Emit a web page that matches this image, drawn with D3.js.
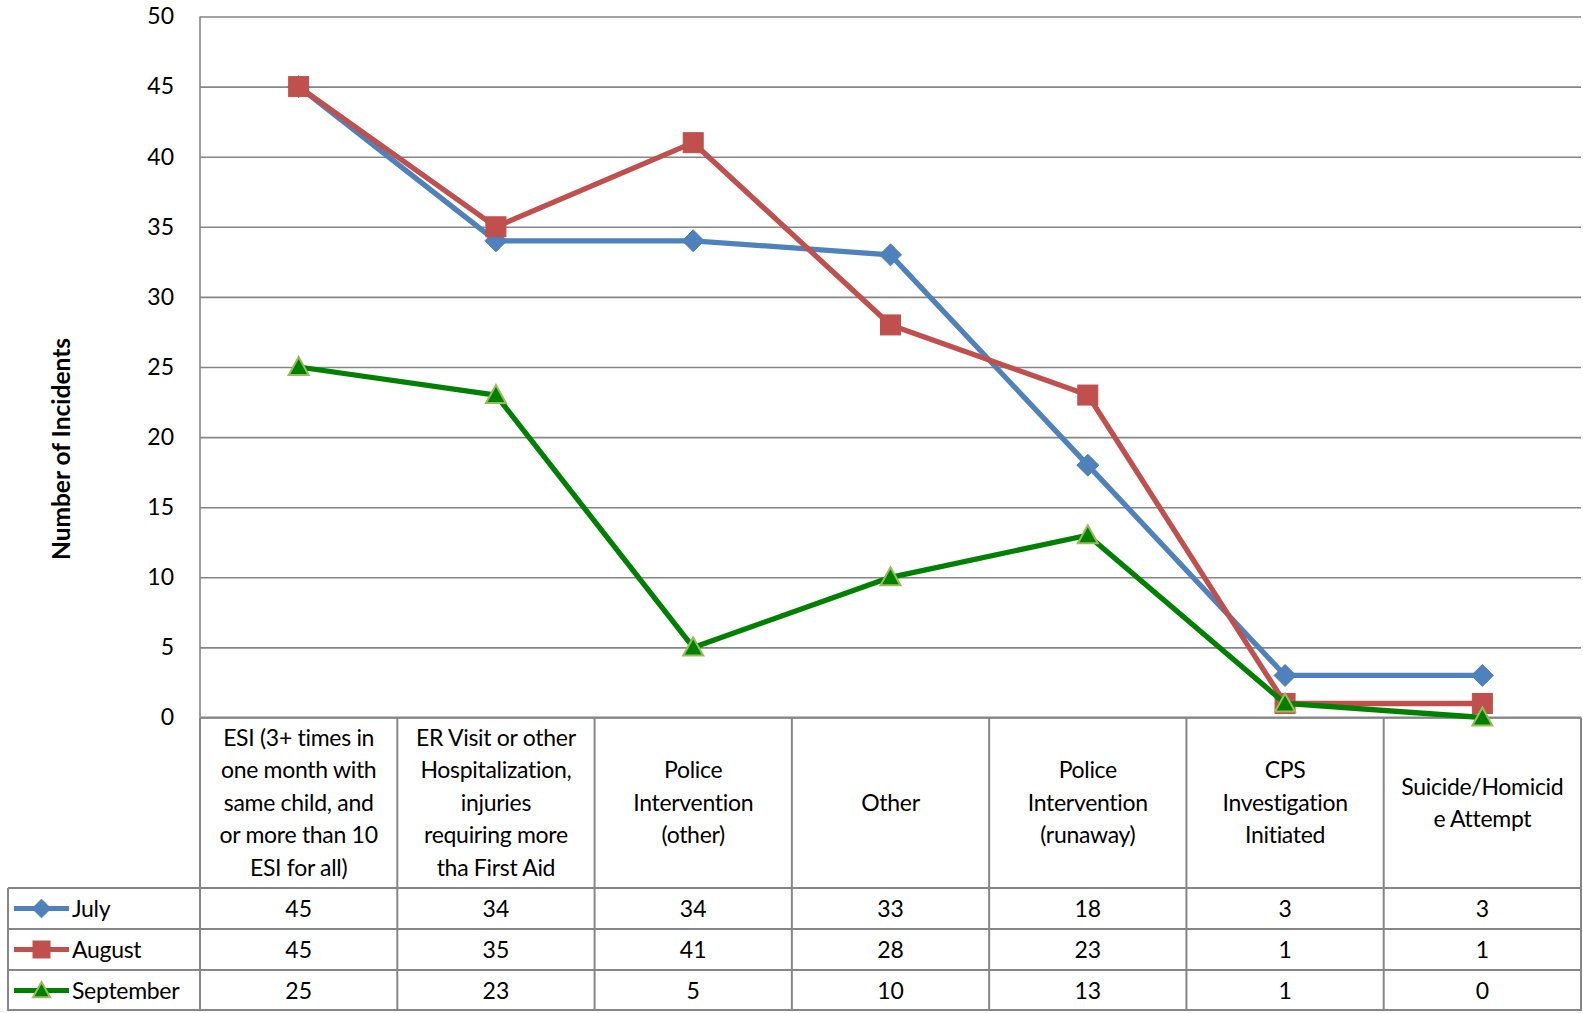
<!DOCTYPE html>
<html>
<head>
<meta charset="utf-8">
<script src="https://cdn.jsdelivr.net/npm/d3@7/dist/d3.min.js"></script>
<style>
  html, body { margin: 0; padding: 0; background: #fff; }
  svg { display: block; }
  text { font-family: Lato, "Open Sans", sans-serif; fill: #000; }
</style>
</head>
<body>
<svg id="chart" width="1583" height="1013"></svg>
<script>
// ---- data ----
const categories = [
  "ESI (3+ times in one month with same child, and or more than 10 ESI for all)",
  "ER Visit or other Hospitalization, injuries requiring more tha First Aid",
  "Police Intervention (other)",
  "Other",
  "Police Intervention (runaway)",
  "CPS Investigation Initiated",
  "Suicide/Homicide Attempt"
];
const categoryLines = [
  ["ESI (3+ times in", "one month with", "same child, and", "or more than 10", "ESI for all)"],
  ["ER Visit or other", "Hospitalization,", "injuries", "requiring more", "tha First Aid"],
  ["Police", "Intervention", "(other)"],
  ["Other"],
  ["Police", "Intervention", "(runaway)"],
  ["CPS", "Investigation", "Initiated"],
  ["Suicide/Homicid", "e Attempt"]
];
const seriesNames = ["July", "August", "September"];
const july = [45, 34, 34, 33, 18, 3, 3];
const august = [45, 35, 41, 28, 23, 1, 1];
const september = [25, 23, 5, 10, 13, 1, 0];
const yTicks = [0, 5, 10, 15, 20, 25, 30, 35, 40, 45, 50];
const yTitle = "Number of Incidents";

// ---- layout ----
const svg = d3.select("#chart");
const plotLeft = 200, plotRight = 1581, plotTop = 16.5, plotBottom = 717.5;
const tableLeft = 8, headerBottom = 888, rowH = 41;
const gridColor = "#868686";
const fs = 23;

const x = d3.scaleBand().domain(categories).range([plotLeft, plotRight]);
const y = d3.scaleLinear().domain([0, 50]).range([plotBottom, plotTop]);

const series = [
  { name: seriesNames[0], values: july, color: "#4F81BD", marker: "diamond", mfill: "#4F81BD", mstroke: "#4F81BD" },
  { name: seriesNames[1], values: august, color: "#C0504D", marker: "square", mfill: "#C0504D", mstroke: "#C0504D" },
  { name: seriesNames[2], values: september, color: "#008000", marker: "triangle", mfill: "#008000", mstroke: "#9BBB59" }
];

// gridlines + y axis labels
const yAxis = d3.axisLeft(y).tickValues(yTicks).tickSize(-(plotRight - plotLeft)).tickPadding(26);
const gy = svg.append("g").attr("transform", `translate(${plotLeft},0)`).call(yAxis);
gy.select(".domain").remove();
gy.selectAll(".tick line").attr("stroke", gridColor).attr("stroke-width", 1.6);
gy.selectAll(".tick text").attr("font-size", fs).attr("font-family", "Lato, sans-serif").attr("fill", "#000");
// y axis line
svg.append("line").attr("x1", plotLeft).attr("x2", plotLeft).attr("y1", plotTop).attr("y2", plotBottom)
  .attr("stroke", gridColor).attr("stroke-width", 1.6);

// y title
svg.append("text")
  .attr("transform", `translate(60,449) rotate(-90)`)
  .attr("text-anchor", "middle").attr("dominant-baseline", "central")
  .attr("font-size", 24.5).attr("font-weight", "bold").text(yTitle);

// ---- table ----
const tbl = svg.append("g").attr("stroke", gridColor).attr("stroke-width", 2);
const nRows = series.length;
const tableBottom = headerBottom + rowH * nRows;
categories.forEach((c) => {
  tbl.append("line").attr("x1", x(c)).attr("x2", x(c)).attr("y1", plotBottom).attr("y2", tableBottom);
});
tbl.append("line").attr("x1", plotRight).attr("x2", plotRight).attr("y1", plotBottom).attr("y2", tableBottom);
tbl.append("line").attr("x1", tableLeft).attr("x2", tableLeft).attr("y1", headerBottom).attr("y2", tableBottom);
tbl.append("line").attr("x1", plotLeft).attr("x2", plotRight).attr("y1", plotBottom).attr("y2", plotBottom);
for (let r = 0; r <= nRows; r++) {
  const yy = headerBottom + r * rowH - (r === nRows ? 1 : 0);
  tbl.append("line").attr("x1", tableLeft).attr("x2", plotRight).attr("y1", yy).attr("y2", yy);
}

// header texts
const lineH = 32.6;
categories.forEach((c, i) => {
  const lines = categoryLines[i];
  const cx = x(c) + x.bandwidth() / 2;
  const cy = (plotBottom + headerBottom) / 2;
  const t = svg.append("text").attr("text-anchor", "middle").attr("font-size", fs).attr("letter-spacing", -0.3);
  lines.forEach((ln, k) => {
    t.append("tspan").attr("x", cx)
      .attr("y", cy + (k - (lines.length - 1) / 2) * lineH)
      .attr("dy", "0.35em").text(ln);
  });
});

// row values & legend
series.forEach((s, r) => {
  const cy = headerBottom + r * rowH + rowH / 2;
  s.values.forEach((v, i) => {
    svg.append("text").attr("x", x(categories[i]) + x.bandwidth() / 2).attr("y", cy)
      .attr("dy", "0.35em").attr("text-anchor", "middle").attr("font-size", fs).text(v);
  });
  svg.append("line").attr("x1", 14).attr("x2", 69).attr("y1", cy).attr("y2", cy)
    .attr("stroke", s.color).attr("stroke-width", 5);
  drawMarker(svg, s, 41.5, cy, 0.85);
  svg.append("text").attr("x", 72).attr("y", cy).attr("dy", "0.35em").attr("font-size", fs)
    .attr("letter-spacing", -0.3).text(s.name);
});

function drawMarker(g, s, cx, cy, k) {
  k = k || 1;
  if (s.marker === "diamond") {
    const r = 11 * k;
    g.append("path").attr("d", `M${cx},${cy - r}L${cx + r},${cy}L${cx},${cy + r}L${cx - r},${cy}Z`)
      .attr("fill", s.mfill).attr("stroke", s.mstroke).attr("stroke-width", 1);
  } else if (s.marker === "square") {
    const h = 10 * k;
    g.append("rect").attr("x", cx - h).attr("y", cy - h).attr("width", 2 * h).attr("height", 2 * h)
      .attr("fill", s.mfill).attr("stroke", s.mstroke).attr("stroke-width", 1);
  } else {
    const h = 10 * k;
    g.append("path").attr("d", `M${cx},${cy - h}L${cx + h},${cy + h * 0.8}L${cx - h},${cy + h * 0.8}Z`)
      .attr("fill", s.mfill).attr("stroke", s.mstroke).attr("stroke-width", 2);
  }
}

// ---- lines ----
const line = d3.line().x((d, i) => x(categories[i]) + x.bandwidth() / 2).y(d => y(d));
series.forEach(s => {
  svg.append("path").datum(s.values).attr("d", line).attr("fill", "none")
    .attr("stroke", s.color).attr("stroke-width", 5.3).attr("stroke-linejoin", "round");
  s.values.forEach((v, i) => drawMarker(svg, s, x(categories[i]) + x.bandwidth() / 2, y(v)));
});
</script>
</body>
</html>
